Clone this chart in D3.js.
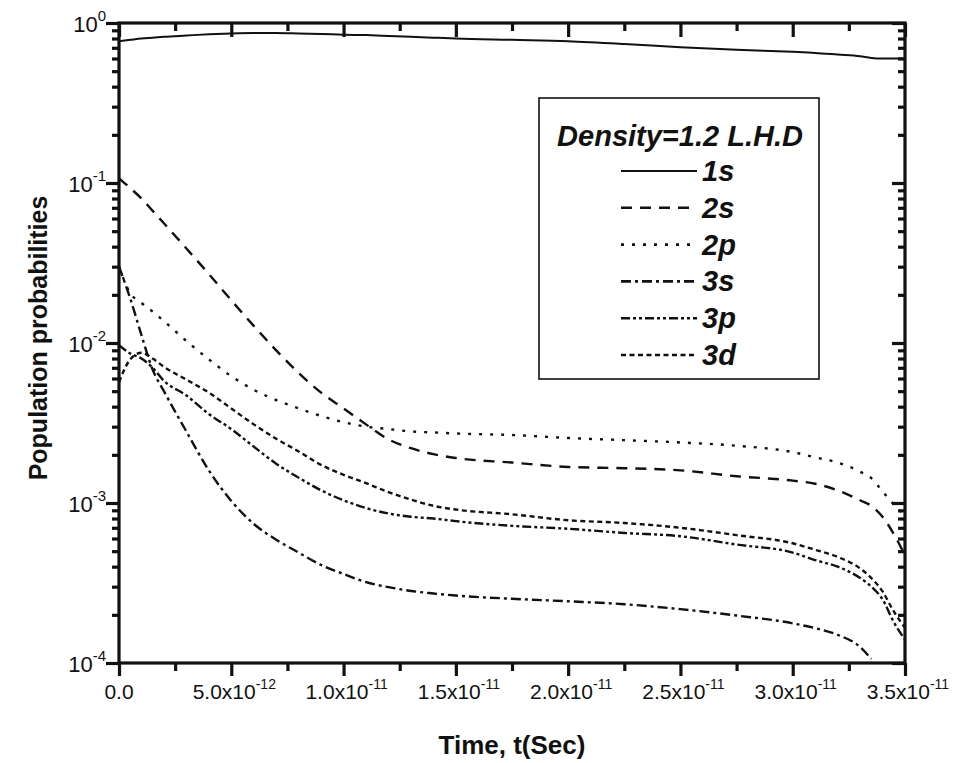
<!DOCTYPE html>
<html><head><meta charset="utf-8">
<script src="https://cdn.jsdelivr.net/npm/d3@7"></script>
<style>body{margin:0;background:#fff}svg{display:block}</style>
</head><body><svg id="c" width="956" height="763"></svg>
<script>
// time in units of 1e-12 s
const timePs = [0, 0.5, 1, 1.5, 2, 3, 4, 5, 6, 7, 8, 9, 10, 11, 12, 13, 14, 15, 17.5, 20, 22.5, 25, 27.5, 30, 31, 32, 33, 33.5, 34, 34.5, 35];
const p1s = [0.77, 0.785, 0.80, 0.81, 0.82, 0.835, 0.85, 0.86, 0.865, 0.865, 0.86, 0.855, 0.845, 0.84, 0.83, 0.82, 0.81, 0.80, 0.785, 0.77, 0.74, 0.705, 0.68, 0.66, 0.65, 0.635, 0.62, 0.605, 0.60, 0.60, 0.60];
const p2s = [0.107, 0.093, 0.080, 0.067, 0.056, 0.039, 0.027, 0.0185, 0.0128, 0.0090, 0.0065, 0.0049, 0.0039, 0.0031, 0.0025, 0.0022, 0.00202, 0.00191, 0.00179, 0.00168, 0.00165, 0.0016, 0.00147, 0.00138, 0.00132, 0.0012, 0.00104, 0.00096, 0.00082, 0.00064, 0.00047];
const p2p = [0.030, 0.0205, 0.0178, 0.0157, 0.0137, 0.0103, 0.0079, 0.0062, 0.0051, 0.0044, 0.0039, 0.0035, 0.0032, 0.0030, 0.0029, 0.0028, 0.00276, 0.00272, 0.00266, 0.00255, 0.00247, 0.00239, 0.00228, 0.00208, 0.00193, 0.00179, 0.00157, 0.00143, 0.00118, 0.00098, 0.00083];
const p3s = [0.030, 0.019, 0.0112, 0.0068, 0.0050, 0.0028, 0.0016, 0.00103, 0.00074, 0.00059, 0.00049, 0.00041, 0.00036, 0.00032, 0.000298, 0.000282, 0.000272, 0.000264, 0.000252, 0.000243, 0.000233, 0.000217, 0.000198, 0.000177, 0.000165, 0.00015, 0.000126, 0.000106, null, null, null];
const p3p = [0.0097, 0.0086, 0.0080, 0.0070, 0.0058, 0.0047, 0.0036, 0.0029, 0.00225, 0.00176, 0.00144, 0.0012, 0.00104, 0.00093, 0.00086, 0.00082, 0.00080, 0.00077, 0.00072, 0.00069, 0.00065, 0.00062, 0.00055, 0.00049, 0.00044, 0.0004, 0.00034, 0.0003, 0.00025, 0.00018, 0.00014];
const p3d = [0.0057, 0.0079, 0.0087, 0.0080, 0.0071, 0.0059, 0.0049, 0.0039, 0.0031, 0.00252, 0.0021, 0.00173, 0.0015, 0.00133, 0.00117, 0.00105, 0.00096, 0.00091, 0.00085, 0.00078, 0.00075, 0.0007, 0.00063, 0.00056, 0.00051, 0.00046, 0.00039, 0.00034, 0.00028, 0.00021, 0.000166];
const seriesNames = ["1s", "2s", "2p", "3s", "3p", "3d"];
const legendTitle = "Density=1.2 L.H.D";
const xMajorTicks = [0, 5e-12, 1e-11, 1.5e-11, 2e-11, 2.5e-11, 3e-11, 3.5e-11];
const xTickMantissa = ["0.0", "5.0x10", "1.0x10", "1.5x10", "2.0x10", "2.5x10", "3.0x10", "3.5x10"];
const xTickExp = ["", "-12", "-11", "-11", "-11", "-11", "-11", "-11"];
const yMajorTicks = [1, 0.1, 0.01, 0.001, 0.0001];
const yTickExp = ["0", "-1", "-2", "-3", "-4"];
const xTitle = "Time, t(Sec)";
const yTitle = "Population probabilities";

const dashes = {"1s": null, "2s": "11,8", "2p": "3,8", "3s": "10,4,3,4", "3p": "9,3,3,3,3,3", "3d": "5,3.5"};
const allSeries = [p1s, p2s, p2p, p3s, p3p, p3d];

const L = 119, R = 905, T = 23, B = 663;
const svg = d3.select("#c");
const x = d3.scaleLinear().domain([0, 3.5e-11]).range([L, R]);
const y = d3.scaleLog().domain([1e-4, 1]).range([B, T]);
const font = "'Liberation Sans', Arial, sans-serif";

svg.append("defs").append("clipPath").attr("id", "clip")
  .append("rect").attr("x", L).attr("y", T).attr("width", R - L).attr("height", B - T);

// curves
const line = d3.line()
  .defined(d => d.v != null)
  .x(d => x(d.t * 1e-12)).y(d => y(d.v))
  .curve(d3.curveMonotoneX);
const gLines = svg.append("g").attr("clip-path", "url(#clip)");
seriesNames.forEach((n, i) => {
  const data = timePs.map((t, j) => ({t, v: allSeries[i][j]}));
  gLines.append("path").datum(data).attr("d", line)
    .attr("fill", "none").attr("stroke", "#111").attr("stroke-width", n === "1s" ? 2 : 2.4)
    .attr("stroke-dasharray", dashes[n]);
});

// minor tick positions
const xMinor = d3.range(0, 15).map(i => i * 2.5e-12).filter((v, i) => i % 2 === 1);
const yMinor = [];
[1e-4, 1e-3, 1e-2, 1e-1].forEach(d => { for (let k = 2; k <= 9; k++) yMinor.push(d * k); });

function styleAxis(g) {
  g.select(".domain").remove();
  g.selectAll(".tick line").attr("stroke", "#111").attr("stroke-width", 3.2);
}
svg.append("g").attr("transform", `translate(0,${B})`).call(d3.axisBottom(x).tickValues(xMajorTicks).tickSize(13).tickFormat("")).call(styleAxis);
svg.append("g").attr("transform", `translate(0,${B})`).call(d3.axisBottom(x).tickValues(xMinor).tickSize(8).tickFormat("")).call(styleAxis);
svg.append("g").attr("transform", `translate(0,${T})`).call(d3.axisTop(x).tickValues(xMajorTicks).tickSize(-14).tickFormat("")).call(styleAxis);
svg.append("g").attr("transform", `translate(0,${T})`).call(d3.axisTop(x).tickValues(xMinor).tickSize(-8).tickFormat("")).call(styleAxis);
svg.append("g").attr("transform", `translate(${L},0)`).call(d3.axisLeft(y).tickValues(yMajorTicks).tickSize(13).tickFormat("")).call(styleAxis);
svg.append("g").attr("transform", `translate(${L},0)`).call(d3.axisLeft(y).tickValues(yMinor).tickSize(7).tickFormat("")).call(styleAxis);
svg.append("g").attr("transform", `translate(${R},0)`).call(d3.axisRight(y).tickValues(yMajorTicks).tickSize(-13).tickFormat("")).call(styleAxis);
svg.append("g").attr("transform", `translate(${R},0)`).call(d3.axisRight(y).tickValues(yMinor).tickSize(-7).tickFormat("")).call(styleAxis);

// frame
svg.append("rect").attr("x", L).attr("y", T).attr("width", R - L).attr("height", B - T)
  .attr("fill", "none").attr("stroke", "#111").attr("stroke-width", 3.2);

// x tick labels
xMajorTicks.forEach((v, i) => {
  const t = svg.append("text").attr("x", x(v) + (i === 0 ? 0 : 3)).attr("y", 699).attr("text-anchor", "middle")
    .attr("font-family", font).attr("font-size", 21).attr("fill", "#111");
  t.append("tspan").text(xTickMantissa[i]);
  if (xTickExp[i]) t.append("tspan").attr("dy", -10).attr("font-size", 14).text(xTickExp[i]);
});
// y tick labels
yMajorTicks.forEach((v, i) => {
  const t = svg.append("text").attr("x", 106).attr("y", y(v) + 9).attr("text-anchor", "end")
    .attr("font-family", font).attr("font-size", 22).attr("fill", "#111");
  t.append("tspan").text("10");
  t.append("tspan").attr("dy", -11).attr("font-size", 15).text(yTickExp[i]);
});

// axis titles
svg.append("text").attr("x", 512).attr("y", 754).attr("text-anchor", "middle")
  .attr("font-family", font).attr("font-weight", "bold").attr("font-size", 26).attr("fill", "#111").text(xTitle);
svg.append("text").attr("transform", `translate(47,338) rotate(-90)`).attr("text-anchor", "middle")
  .attr("font-family", font).attr("font-weight", "bold").attr("font-size", 25).attr("fill", "#111").text(yTitle);

// legend
const lg = svg.append("g");
lg.append("rect").attr("x", 539).attr("y", 98).attr("width", 280).attr("height", 281)
  .attr("fill", "#fff").attr("stroke", "#111").attr("stroke-width", 1.6);
lg.append("text").attr("x", 680).attr("y", 146).attr("text-anchor", "middle")
  .attr("font-family", font).attr("font-weight", "bold").attr("font-style", "italic").attr("font-size", 29).attr("fill", "#111").text(legendTitle);
seriesNames.forEach((n, i) => {
  const yy = 171 + i * 36.8;
  lg.append("line").attr("x1", 621).attr("x2", 697).attr("y1", yy).attr("y2", yy)
    .attr("stroke", "#111").attr("stroke-width", n === "1s" ? 2.2 : 2.6).attr("stroke-dasharray", dashes[n]);
  lg.append("text").attr("x", 702).attr("y", yy + 10).attr("font-family", font).attr("font-weight", "bold")
    .attr("font-style", "italic").attr("font-size", 29).attr("fill", "#111").text(n);
});
</script></body></html>
